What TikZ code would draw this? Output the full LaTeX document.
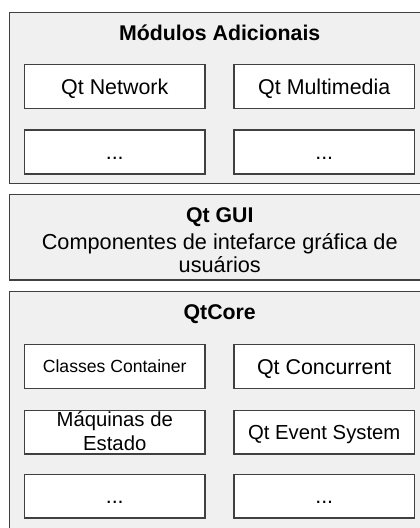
\documentclass[tikz,border=0pt]{standalone}
\usepackage{fontspec}
\setmainfont{Liberation Sans}
\definecolor{outfill}{HTML}{F0F0F0}
\definecolor{edge}{HTML}{404040}
\begin{document}
\begin{tikzpicture}[x=1pt,y=-1pt,
  outbox/.style={draw=edge,fill=outfill,line width=1.3pt},
  inbox/.style={draw=edge,fill=white,line width=1.3pt,inner sep=0pt,
    minimum width=180.5pt,minimum height=43.8pt,
    font=\fontsize{21.4}{24}\selectfont},
  onel/.style={text height=15.4pt,text depth=0pt},
  ttl/.style={anchor=base,inner sep=0pt,font=\fontsize{21.3}{24}\selectfont\bfseries},
  txt/.style={anchor=base,inner sep=0pt,font=\fontsize{21.7}{24}\selectfont}]
\clip (0,0) rectangle (420,528);
\fill[white] (0,0) rectangle (420,528);
% outer boxes
\draw[outbox] (9.5,12.7) rectangle (445,183.3);
\draw[outbox] (9.5,194.3) rectangle (445,280);
\draw[outbox] (9.5,291.7) rectangle (445,570);
% Modulos Adicionais
\node[ttl] (tmod) at (219.75,40.7) {Módulos Adicionais};
\node[inbox,onel] (net) at (114.75,86.4) {Qt Network};
\node[inbox,onel] (mm) at (324.25,86.4) {Qt Multimedia};
\node[inbox,onel] (m3) at (114.75,152) {...};
\node[inbox,onel] (m4) at (324.25,152) {...};
% Qt GUI
\node[ttl] (tgui) at (219.75,222.3) {Qt GUI};
\node[txt] (g1) at (219.75,249) {Componentes de intefarce gráfica de};
\node[txt] (g2) at (219.75,272.3) {usuários};
% QtCore
\node[ttl] (tcore) at (219.75,319.3) {QtCore};
\node[inbox,onel,font=\fontsize{17.6}{20}\selectfont,text height=12.5pt] (cc) at (114.75,366.6) {Classes Container};
\node[inbox,onel] (conc) at (324.25,366.6) {Qt Concurrent};
\node[inbox] (maq) at (114.75,432.2) {};
\node[txt,font=\fontsize{20.3}{24}\selectfont] (maq1) at (114.75,426.7) {Máquinas de};
\node[txt,font=\fontsize{20.3}{24}\selectfont] (maq2) at (114.75,450.7) {Estado};
\node[inbox,onel,font=\fontsize{20.3}{24}\selectfont] (evt) at (324.25,432.2) {Qt Event System};
\node[inbox,onel] (c5) at (114.75,496.2) {...};
\node[inbox,onel] (c6) at (324.25,496.2) {...};
\end{tikzpicture}
\end{document}
